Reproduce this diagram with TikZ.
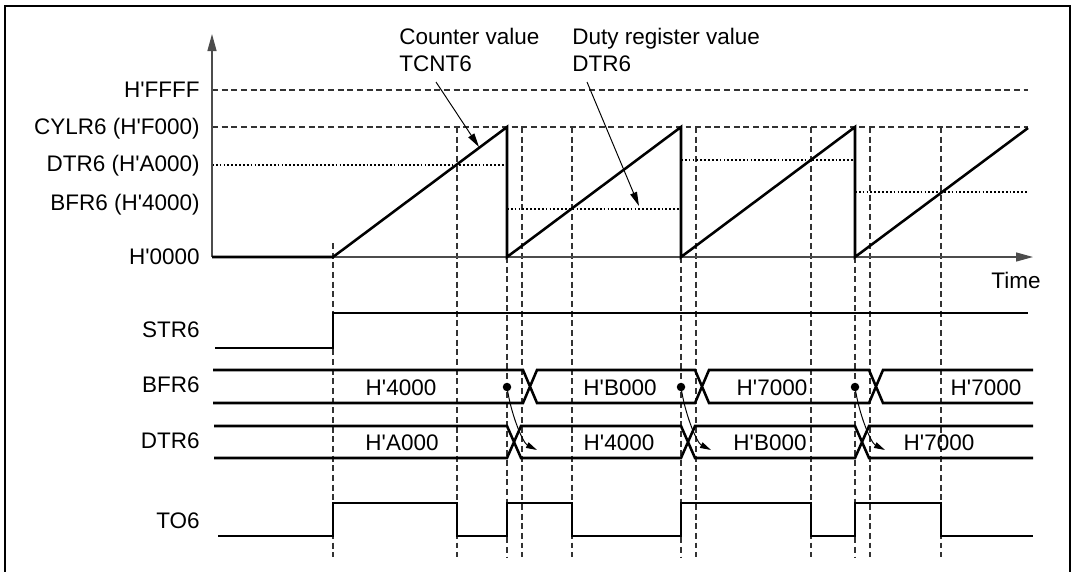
\documentclass[tikz,border=0pt]{standalone}
\usepackage{fontspec}
\setsansfont{Liberation Sans}
\usetikzlibrary{arrows.meta}
\newcommand{\hexq}{H\textquotesingle}

\begin{document}
\begin{tikzpicture}[
 x=0.02cm,y=-0.02cm,font=\sffamily\fontsize{12.8}{15.2}\selectfont,
 tag/.style={inner sep=0pt},
 note/.style={tag,align=left,anchor=north west},
 arrowaxis/.style={draw=black!70,line width=0.75pt,-{Triangle[length=3.4mm,width=1.8mm]}},
 wave/.style={line width=1.45pt,line join=miter},
 bound/.style={draw=black!80,line width=0.75pt,dash pattern=on 3.4pt off 2.1pt},
 guide/.style={bound},
 compare/.style={draw=black,line width=0.8pt,dash pattern=on 1pt off 1.2pt},
 pointer/.style={-{Triangle[length=2.8mm,width=1.4mm]},line width=0.55pt},
 loadarrow/.style={pointer,-{Triangle[length=2.2mm,width=1.2mm]}},
 dot/.style={circle,fill,inner sep=0pt,minimum size=0.17cm}]
\useasboundingbox (0,0) rectangle (1073,572);
\draw[line width=1.5pt] (5,572) -- (5,6) -- (1070,6) -- (1070,572);
\draw[guide] (333,243) -- (333,557) (457,127) -- (457,557) (507,257) -- (507,557)
 (522,127) -- (522,557) (572,127) -- (572,557) (681,257) -- (681,557)
 (696,127) -- (696,557) (811,127) -- (811,557) (855,257) -- (855,557)
 (870,127) -- (870,557) (941,127) -- (941,557);
\draw[bound] (212,90) -- (1028,90);
\draw[bound] (212,127) -- (1028,127);
\draw[compare] (212,165) -- (507,165);
\draw[compare] (507,209) -- (681,209);
\draw[compare] (681,160) -- (855,160);
\draw[compare] (855,192) -- (1028,192);
\draw[arrowaxis] (212,257) -- (212,34);
\draw[arrowaxis] (212,257) -- (1033,257);
\draw[wave] (212,257) -- (333,257) -- (507,127) -- (507,257) -- (681,127) -- (681,257)
 -- (855,127) -- (855,257) -- (1028,128);
\node[tag,anchor=base east] (ffff) at (200,97) {\hexq FFFF};
\node[tag,anchor=base east] (cylr) at (200,134) {CYLR6 (\hexq F000)};
\node[tag,anchor=base east] (dtrlvl) at (200,171) {DTR6 (\hexq A000)};
\node[tag,anchor=base east] (bfrlvl) at (200,210) {BFR6 (\hexq 4000)};
\node[tag,anchor=base east] (zero) at (200,264) {\hexq 0000};
\node[tag,anchor=base] (time) at (1016,288) {Time};
\node[note] (counter) at (399,28) {Counter value\\TCNT6};
\node[note] (duty) at (572,28) {Duty register value\\DTR6};
\coordinate (cntfrom) at (436,82);
\coordinate (cntto) at (479,147);
\coordinate (dutyfrom) at (587,82);
\coordinate (dutyto) at (639,206);
\draw[pointer] (cntfrom) -- (cntto);
\draw[pointer] (dutyfrom) -- (dutyto);
\node[tag,anchor=base east] (str) at (200,337) {STR6};
\node[tag,anchor=base east] (bfr) at (200,392) {BFR6};
\node[tag,anchor=base east] (dtr) at (200,448) {DTR6};
\node[tag,anchor=base east] (to) at (200,528) {TO6};
\draw[wave] (215,348) -- (333,348) -- (333,313) -- (1028,313);
\draw[wave] (213,370) -- (523,370) -- (537,403) -- (695,403) -- (709,370) -- (869,370)
 -- (883,403) -- (1033,403)
 (213,403) -- (523,403) -- (537,370) -- (695,370) -- (709,403) -- (869,403)
 -- (883,370) -- (1033,370);
\draw[wave] (214,426) -- (507,426) -- (521,458) -- (681,458) -- (695,426) -- (855,426)
 -- (869,458) -- (1033,458)
 (214,458) -- (507,458) -- (521,426) -- (681,426) -- (695,458) -- (855,458)
 -- (869,426) -- (1033,426);
\draw[wave] (218,536) -- (333,536) -- (333,503) -- (457,503) -- (457,536) -- (507,536)
 -- (507,503) -- (572,503) -- (572,536) -- (681,536) -- (681,503) -- (811,503)
 -- (811,536) -- (855,536) -- (855,503) -- (941,503) -- (941,536) -- (1033,536);
\node[tag,anchor=base] (bfrA) at (401,395) {\hexq 4000};
\node[tag,anchor=base] (bfrB) at (620,395) {\hexq B000};
\node[tag,anchor=base] (bfrC) at (772,395) {\hexq 7000};
\node[tag,anchor=base] (bfrD) at (986,395) {\hexq 7000};
\node[tag,anchor=base] (dtrA) at (402,450) {\hexq A000};
\node[tag,anchor=base] (dtrB) at (619,450) {\hexq 4000};
\node[tag,anchor=base] (dtrC) at (770,450) {\hexq B000};
\node[tag,anchor=base] (dtrD) at (939,450) {\hexq 7000};
\node[dot] (load1) at (507,387) {};
\node[dot] (load2) at (681,387) {};
\node[dot] (load3) at (855,387) {};
\coordinate (into1) at (537,450);
\coordinate (into2) at (711,450);
\coordinate (into3) at (885,450);
\draw[loadarrow] (load1.center) .. controls +(4,28) and +(-14,-7) .. (into1);
\draw[loadarrow] (load2.center) .. controls +(4,28) and +(-14,-7) .. (into2);
\draw[loadarrow] (load3.center) .. controls +(4,28) and +(-14,-7) .. (into3);
\end{tikzpicture}
\end{document}
